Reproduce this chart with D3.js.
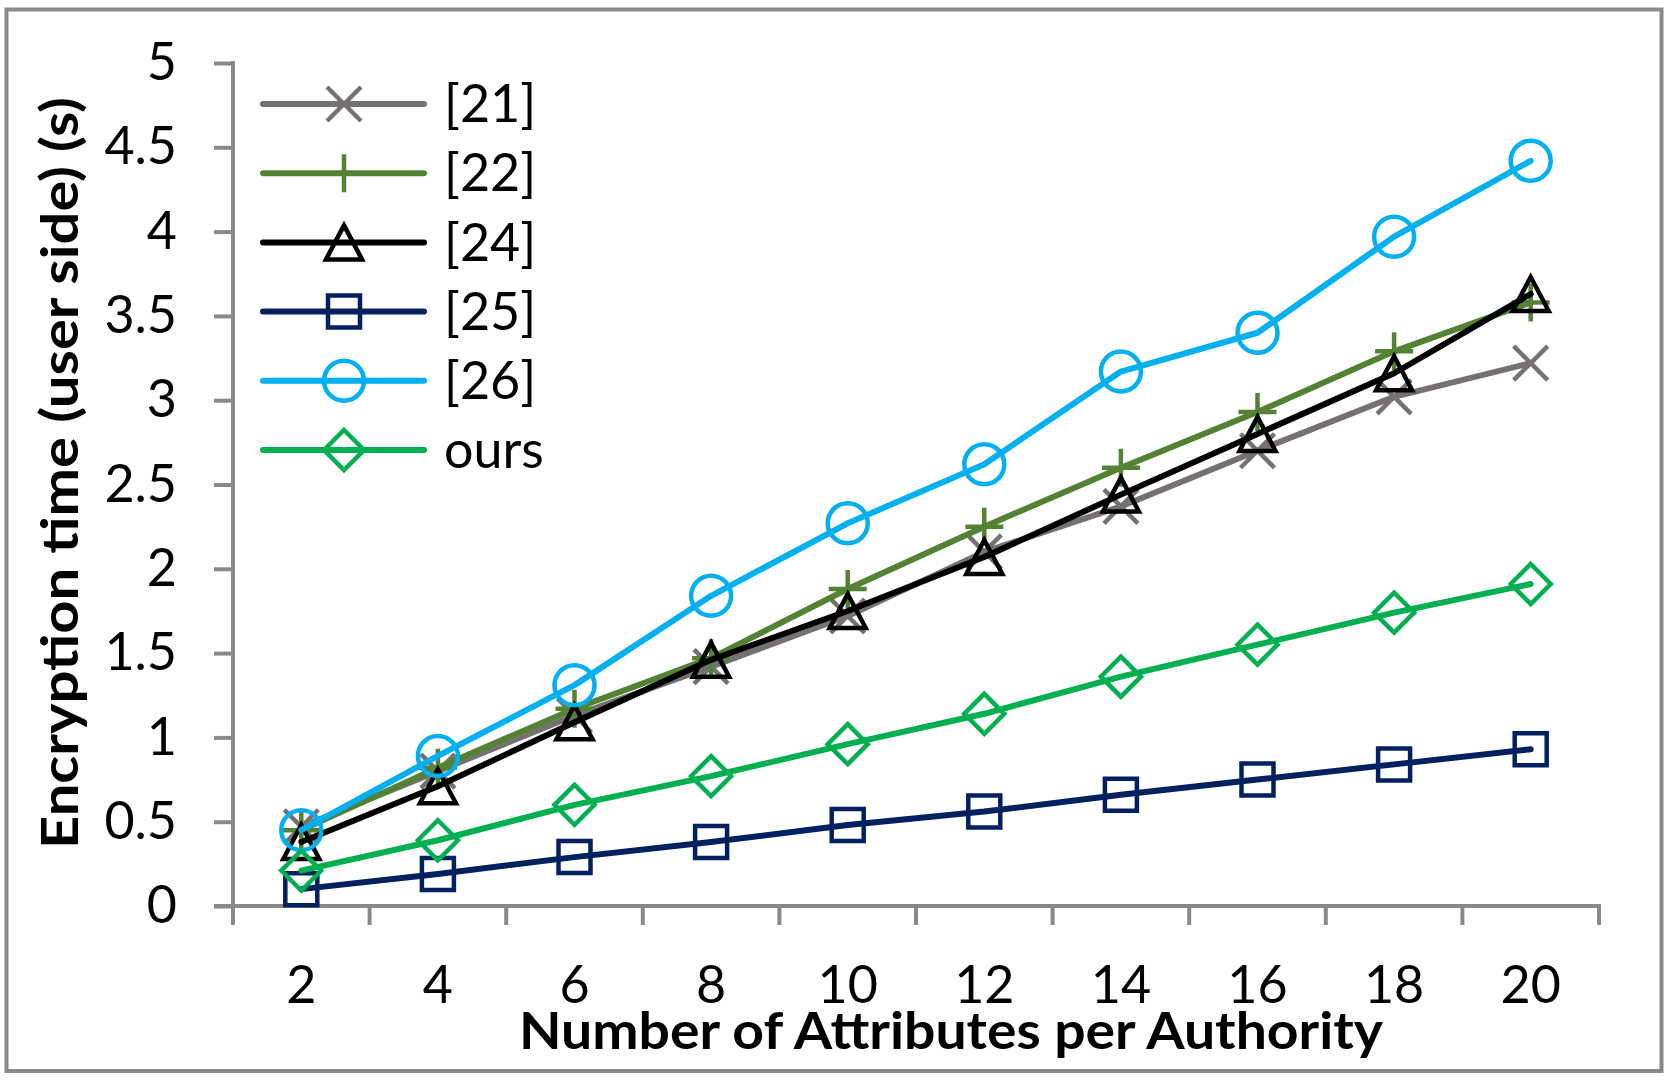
<!DOCTYPE html>
<html>
<head>
<meta charset="utf-8">
<script src="https://cdn.jsdelivr.net/npm/d3@7"></script>
<style>
  body { margin: 0; background: #fff; }
  svg text { font-family: "Lato", "Open Sans", sans-serif; fill: #000; }
</style>
</head>
<body>
<svg id="chart" width="1676" height="1087"></svg>
<script>
// categories on the x axis
var attributes = [2, 4, 6, 8, 10, 12, 14, 16, 18, 20];

// encryption time in seconds, one array per scheme
var scheme21 = [0.47, 0.80, 1.13, 1.42, 1.72, 2.10, 2.37, 2.70, 3.02, 3.22];
var scheme22 = [0.45, 0.82, 1.17, 1.47, 1.88, 2.25, 2.60, 2.93, 3.29, 3.58];
var scheme24 = [0.38, 0.71, 1.09, 1.46, 1.75, 2.07, 2.44, 2.80, 3.16, 3.63];
var scheme25 = [0.10, 0.19, 0.29, 0.38, 0.48, 0.56, 0.66, 0.75, 0.84, 0.93];
var scheme26 = [0.45, 0.89, 1.31, 1.84, 2.27, 2.62, 3.17, 3.40, 3.97, 4.42];
var schemeOurs = [0.21, 0.39, 0.60, 0.77, 0.96, 1.14, 1.36, 1.55, 1.74, 1.91];

var seriesNames = ["[21]", "[22]", "[24]", "[25]", "[26]", "ours"];
var yTicks = [0, 0.5, 1, 1.5, 2, 2.5, 3, 3.5, 4, 4.5, 5];

var series = [
    { name: seriesNames[0], values: scheme21, color: "#767171", marker: "x" },
    { name: seriesNames[1], values: scheme22, color: "#548235", marker: "plus" },
    { name: seriesNames[2], values: scheme24, color: "#000000", marker: "triangle" },
    { name: seriesNames[3], values: scheme25, color: "#002060", marker: "square" },
    { name: seriesNames[4], values: scheme26, color: "#00B0F0", marker: "circle" },
    { name: seriesNames[5], values: schemeOurs, color: "#00B050", marker: "diamond" }
];

var svg = d3.select("#chart");
var axisColor = "#898989";
var labelSize = "52px";

// outer frame
svg.append("rect")
    .attr("x", 6.5).attr("y", 9.5)
    .attr("width", 1655).attr("height", 1061.5)
    .attr("fill", "none")
    .attr("stroke", axisColor)
    .attr("stroke-width", 4);

var x = d3.scaleBand().domain(attributes).range([233, 1599]).padding(0);
var y = d3.scaleLinear().domain([0, 5]).range([906, 63]);
var cx = function(d) { return x(d) + x.bandwidth() / 2; };

// y axis
var yAxis = svg.append("g")
    .attr("transform", "translate(233,0)")
    .call(d3.axisLeft(y).tickValues(yTicks).tickSize(19).tickPadding(37)
        .tickFormat(d3.format("~g")));
yAxis.select(".domain").remove();
yAxis.selectAll(".tick line").attr("stroke", axisColor).attr("stroke-width", 4);
yAxis.selectAll(".tick text").style("font-size", labelSize).attr("fill", "#000");
svg.append("line")
    .attr("x1", 233).attr("x2", 233)
    .attr("y1", y(5) - 2).attr("y2", y(0) + 2)
    .attr("stroke", axisColor).attr("stroke-width", 4);

// x axis: ticks sit between categories, like Excel
svg.append("line")
    .attr("x1", 214).attr("x2", 1601)
    .attr("y1", y(0)).attr("y2", y(0))
    .attr("stroke", axisColor).attr("stroke-width", 4);
var bounds = attributes.map(function(d) { return x(d); }).concat([x.range()[1]]);
svg.selectAll(".xtick").data(bounds).enter().append("line")
    .attr("class", "xtick")
    .attr("x1", function(d) { return d; }).attr("x2", function(d) { return d; })
    .attr("y1", y(0)).attr("y2", y(0) + 19)
    .attr("stroke", axisColor).attr("stroke-width", 4);
svg.selectAll(".xlabel").data(attributes).enter().append("text")
    .attr("class", "xlabel")
    .attr("x", cx)
    .attr("y", 1003)
    .attr("text-anchor", "middle")
    .style("font-size", labelSize)
    .text(function(d) { return d; });

// axis titles
svg.append("text")
    .attr("x", 951).attr("y", 1049)
    .attr("text-anchor", "middle")
    .attr("textLength", 864).attr("lengthAdjust", "spacingAndGlyphs")
    .style("font-size", "52px").style("font-weight", "bold")
    .text("Number of Attributes per Authority");
svg.append("text")
    .attr("transform", "translate(78,473) rotate(-90)")
    .attr("text-anchor", "middle")
    .attr("textLength", 752).attr("lengthAdjust", "spacingAndGlyphs")
    .style("font-size", "52px").style("font-weight", "bold")
    .text("Encryption time (user side) (s)");

// hollow marker shapes
function markerPath(type) {
    switch (type) {
        case "x": return "M-17,-17L17,17M-17,17L17,-17";
        case "plus": return "M-19,0L19,0M0,-19L0,19";
        case "triangle": return "M0,-17L18,17L-18,17Z";
        case "square": return "M-16,-16L16,-16L16,16L-16,16Z";
        case "diamond": return "M0,-20L20,0L0,20L-20,0Z";
    }
    return null;
}
function drawMarker(g, type, color) {
    if (type === "circle") {
        g.append("circle").attr("r", 20)
            .attr("fill", "none").attr("stroke", color).attr("stroke-width", 4.5);
    } else {
        g.append("path").attr("d", markerPath(type))
            .attr("fill", "none").attr("stroke", color).attr("stroke-width", 4.5)
            .attr("stroke-linejoin", "miter");
    }
}

var line = d3.line()
    .x(function(d, i) { return cx(attributes[i]); })
    .y(function(d) { return y(d); });

series.forEach(function(s) {
    var g = svg.append("g");
    g.append("path")
        .attr("d", line(s.values))
        .attr("fill", "none")
        .attr("stroke", s.color)
        .attr("stroke-width", 6)
        .attr("stroke-linecap", "round")
        .attr("stroke-linejoin", "round");
    s.values.forEach(function(v, i) {
        var m = g.append("g").attr("transform", "translate(" + cx(attributes[i]) + "," + y(v) + ")");
        drawMarker(m, s.marker, s.color);
    });
});

// legend
var legend = svg.append("g");
series.forEach(function(s, i) {
    var row = legend.append("g").attr("transform", "translate(0," + (104 + i * 69.2) + ")");
    row.append("line")
        .attr("x1", 263).attr("x2", 424)
        .attr("stroke", s.color).attr("stroke-width", 6)
        .attr("stroke-linecap", "round");
    var m = row.append("g").attr("transform", "translate(344,0)");
    drawMarker(m, s.marker, s.color);
    row.append("text")
        .attr("x", 444).attr("y", 0).attr("dy", "0.35em")
        .style("font-size", labelSize)
        .text(s.name);
});
</script>
</body>
</html>
